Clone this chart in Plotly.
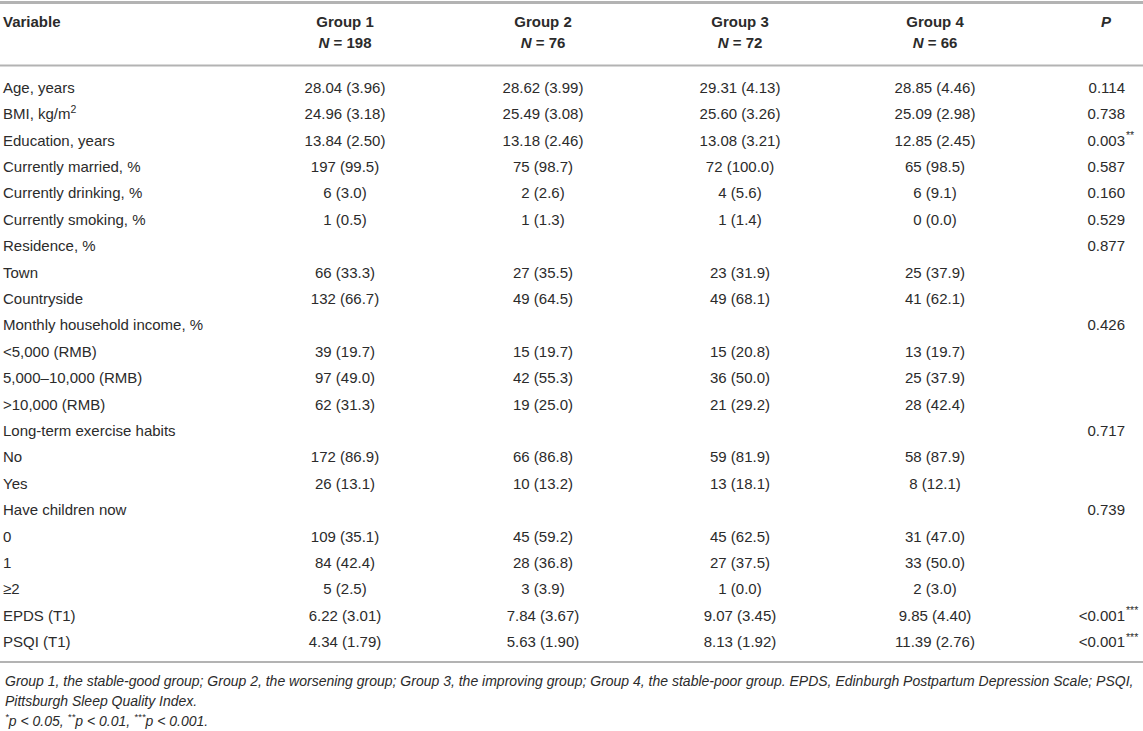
#!/usr/bin/env python3
"""Baseline characteristics table (four trajectory groups) drawn with plotly text traces."""

import plotly.graph_objects as go

W, H = 1143, 731

# ---- data -----------------------------------------------------------------
variables = [
    "Age, years", "BMI, kg/m<sup>2</sup>", "Education, years",
    "Currently married, %", "Currently drinking, %", "Currently smoking, %",
    "Residence, %", "Town", "Countryside",
    "Monthly household income, %", "&lt;5,000 (RMB)", "5,000–10,000 (RMB)",
    "&gt;10,000 (RMB)",
    "Long-term exercise habits", "No", "Yes",
    "Have children now", "0", "1", "≥2",
    "EPDS (T1)", "PSQI (T1)",
]
group1 = ["28.04 (3.96)", "24.96 (3.18)", "13.84 (2.50)", "197 (99.5)", "6 (3.0)",
          "1 (0.5)", "", "66 (33.3)", "132 (66.7)", "", "39 (19.7)", "97 (49.0)",
          "62 (31.3)", "", "172 (86.9)", "26 (13.1)", "", "109 (35.1)",
          "84 (42.4)", "5 (2.5)", "6.22 (3.01)", "4.34 (1.79)"]
group2 = ["28.62 (3.99)", "25.49 (3.08)", "13.18 (2.46)", "75 (98.7)", "2 (2.6)",
          "1 (1.3)", "", "27 (35.5)", "49 (64.5)", "", "15 (19.7)", "42 (55.3)",
          "19 (25.0)", "", "66 (86.8)", "10 (13.2)", "", "45 (59.2)",
          "28 (36.8)", "3 (3.9)", "7.84 (3.67)", "5.63 (1.90)"]
group3 = ["29.31 (4.13)", "25.60 (3.26)", "13.08 (3.21)", "72 (100.0)", "4 (5.6)",
          "1 (1.4)", "", "23 (31.9)", "49 (68.1)", "", "15 (20.8)", "36 (50.0)",
          "21 (29.2)", "", "59 (81.9)", "13 (18.1)", "", "45 (62.5)",
          "27 (37.5)", "1 (0.0)", "9.07 (3.45)", "8.13 (1.92)"]
group4 = ["28.85 (4.46)", "25.09 (2.98)", "12.85 (2.45)", "65 (98.5)", "6 (9.1)",
          "0 (0.0)", "", "25 (37.9)", "41 (62.1)", "", "13 (19.7)", "25 (37.9)",
          "28 (42.4)", "", "58 (87.9)", "8 (12.1)", "", "31 (47.0)",
          "33 (50.0)", "2 (3.0)", "9.85 (4.40)", "11.39 (2.76)"]
p_values = ["0.114", "0.738", "0.003", "0.587", "0.160", "0.529", "0.877", "", "",
            "0.426", "", "", "", "0.717", "", "", "0.739", "", "", "",
            "&lt;0.001", "&lt;0.001"]
p_stars = ["", "", "**", "", "", "", "", "", "", "", "", "", "", "", "", "", "",
           "", "", "", "***", "***"]

group_names = ["Group 1", "Group 2", "Group 3", "Group 4"]
group_n = [198, 76, 72, 66]

footnotes = [
    "Group 1, the stable-good group; Group 2, the worsening group; Group 3, the improving "
    "group; Group 4, the stable-poor group. EPDS, Edinburgh Postpartum Depression Scale; PSQI,",
    "Pittsburgh Sleep Quality Index.",
    "<sup>*</sup>p &lt; 0.05, <sup>**</sup>p &lt; 0.01, <sup>***</sup>p &lt; 0.001.",
]

# ---- layout constants (pixels) -------------------------------------------
FONT = "Liberation Sans, Arial, Helvetica, sans-serif"
TXT = "#2b2b2b"
RULE = "#b3b3b3"
X_VAR = 3
X_GROUPS = [345, 543, 740, 935]
X_P = 1106
P_HALF = 19          # half width of "0.114" -> numbers right-aligned here, stars after
HEAD_Y1, HEAD_Y2 = 23, 44
ROW0, STEP = 89, 26.4
FS = 15

rows_y = [ROW0 + i * STEP for i in range(len(variables))]

fig = go.Figure()


def text_trace(x, y, text, pos, size=FS):
    keep = [(a, b, t) for a, b, t in zip(x, y, text) if t]
    fig.add_trace(go.Scatter(
        x=[k[0] for k in keep], y=[k[1] for k in keep], text=[k[2] for k in keep],
        mode="text", textposition=pos, hoverinfo="skip",
        textfont=dict(family=FONT, size=size, color=TXT), showlegend=False,
    ))


# body
text_trace([X_VAR] * len(variables), rows_y, variables, "middle right")
for xc, col in zip(X_GROUPS, [group1, group2, group3, group4]):
    text_trace([xc] * len(col), rows_y, col, "middle center")
text_trace([X_P + P_HALF] * len(p_values), rows_y, p_values, "middle left")
text_trace([X_P + P_HALF + 1] * len(p_stars), rows_y,
           [f"<sup>{s}</sup>" if s else "" for s in p_stars], "middle right")

# header
text_trace([X_VAR], [HEAD_Y1], ["<b>Variable</b>"], "middle right")
text_trace(X_GROUPS, [HEAD_Y1] * 4, [f"<b>{g}</b>" for g in group_names], "middle center")
text_trace(X_GROUPS, [HEAD_Y2] * 4, [f"<b><i>N</i> = {n}</b>" for n in group_n],
           "middle center")
text_trace([X_P], [HEAD_Y1], ["<b><i>P</i></b>"], "middle center")

# rules
for y, w in [(2.5, 3), (65.5, 2), (662, 2)]:
    fig.add_shape(type="line", xref="x", yref="y", x0=0, x1=W, y0=y, y1=y,
                  line=dict(color=RULE, width=w))

# footnotes
for i, t in enumerate(footnotes):
    fig.add_annotation(x=X_VAR, y=681 + i * 19.5, xref="x", yref="y", text=f"<i>{t}</i>",
                       showarrow=False, xanchor="left", yanchor="middle",
                       font=dict(family=FONT, size=14, color=TXT))

fig.update_xaxes(range=[0, W], visible=False, fixedrange=True)
fig.update_yaxes(range=[H, 0], visible=False, fixedrange=True)
fig.update_layout(
    width=W, height=H, margin=dict(l=0, r=0, t=0, b=0),
    paper_bgcolor="white", plot_bgcolor="white",
)

fig.write_html("out.html", config={"displayModeBar": False},
               post_script="document.body.style.margin='0';")
